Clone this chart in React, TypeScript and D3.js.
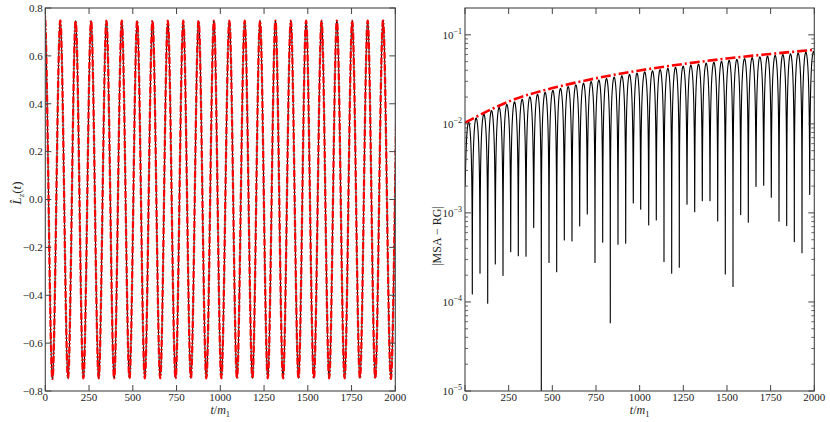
import React from "react";
import * as d3 from "d3";

// ---------- data ----------
// Left panel: extrema of L_z(t) (alternating trough / peak; peak at t=0; outer points lie outside the frame)
const lzTimes = [-43.9, 0, 41.8, 85.9, 130.0, 173.5, 217.6, 261.7, 305.2, 349.3, 393.4, 436.9, 481.0, 525.0, 568.6, 612.6, 656.7, 700.2, 744.3, 788.4, 831.9, 876.0, 920.1, 963.6, 1006.0, 1051.8, 1095.3, 1139.4, 1183.5, 1227.0, 1271.1, 1315.2, 1358.7, 1402.8, 1446.9, 1490.4, 1534.5, 1578.6, 1622.1, 1666.2, 1710.3, 1753.8, 1797.9, 1842.0, 1885.5, 1929.6, 1973.7, 2017.5, 2061.4];
const lzMSA = [-0.747, 0.747, -0.747, 0.747, -0.747, 0.747, -0.747, 0.747, -0.747, 0.747, -0.747, 0.747, -0.747, 0.747, -0.747, 0.747, -0.747, 0.747, -0.747, 0.747, -0.747, 0.747, -0.747, 0.747, -0.747, 0.747, -0.747, 0.747, -0.747, 0.747, -0.747, 0.747, -0.747, 0.747, -0.747, 0.747, -0.747, 0.747, -0.747, 0.747, -0.747, 0.747, -0.747, 0.747, -0.747, 0.747, -0.747, 0.747, -0.747];
const lzRG = [-0.747, 0.747, -0.747, 0.747, -0.747, 0.747, -0.747, 0.747, -0.747, 0.747, -0.747, 0.747, -0.747, 0.747, -0.747, 0.747, -0.747, 0.747, -0.747, 0.747, -0.747, 0.747, -0.747, 0.747, -0.747, 0.747, -0.747, 0.747, -0.747, 0.747, -0.747, 0.747, -0.747, 0.747, -0.747, 0.747, -0.747, 0.747, -0.747, 0.747, -0.747, 0.747, -0.747, 0.747, -0.747, 0.747, -0.747, 0.747, -0.747];

// Right panel: |MSA - RG| dips (time, value) and arch tops between dips
const diffDipT = [0, 41.8, 85.9, 130.0, 173.5, 217.6, 261.7, 305.2, 349.3, 393.4, 436.9, 481.0, 525.0, 568.6, 612.6, 656.7, 700.2, 744.3, 788.4, 831.9, 876.0, 920.1, 963.6, 1006.0, 1051.8, 1095.3, 1139.4, 1183.5, 1227.0, 1271.1, 1315.2, 1358.7, 1402.8, 1446.9, 1490.4, 1534.5, 1578.6, 1622.1, 1666.2, 1710.3, 1753.8, 1797.9, 1842.0, 1885.5, 1929.6, 1973.7, 2017.5];
const diffDipV = [2.0e-3, 1.23e-4, 2.1e-4, 9.7e-5, 2.67e-4, 1.98e-4, 3.67e-4, 3.31e-4, 3.26e-4, 6.84e-4, 2.0e-6, 2.77e-4, 2.19e-4, 4.97e-4, 4.84e-4, 7.14e-4, 9.75e-4, 2.77e-4, 4.69e-4, 5.85e-5, 4.45e-4, 4.57e-4, 1.29e-3, 1.1e-3, 7.33e-4, 8.34e-4, 2.84e-4, 2.1e-4, 2.45e-4, 1.25e-3, 1.03e-3, 1.37e-3, 1.37e-3, 8.13e-4, 2.06e-4, 1.49e-4, 9.57e-4, 7.86e-4, 1.98e-3, 2.05e-3, 1.5e-3, 8.07e-4, 7.2e-4, 4.76e-4, 3.58e-4, 1.61e-3, 1.0e-3];
const diffHumpV = [0.0104, 0.01165, 0.0129, 0.0141, 0.0153, 0.0165, 0.0177, 0.0189, 0.0201, 0.0214, 0.0226, 0.0238, 0.025, 0.0262, 0.0274, 0.0286, 0.0298, 0.0311, 0.0323, 0.0335, 0.0347, 0.0359, 0.0371, 0.0383, 0.0395, 0.0407, 0.042, 0.0432, 0.0444, 0.0456, 0.0468, 0.048, 0.0492, 0.0504, 0.0516, 0.0529, 0.0541, 0.0553, 0.0565, 0.0577, 0.0589, 0.0601, 0.0613, 0.0625, 0.0638, 0.065];

// Right panel: red dash-dot envelope
const envT = [0, 250, 500, 750, 1000, 1250, 1500, 1750, 2000];
const envV = [0.0103, 0.0178, 0.0252, 0.0325, 0.0398, 0.047, 0.0542, 0.061, 0.0678];

const xTicks = [0, 250, 500, 750, 1000, 1250, 1500, 1750, 2000];
const yTicksLeft = [-0.8, -0.6, -0.4, -0.2, 0.0, 0.2, 0.4, 0.6, 0.8];
const yDecadesRight = [-5, -4, -3, -2, -1];

// arch sampling fractions (line style of the absolute-difference trace)
const archU = [0, 0.001, 0.003, 0.006, 0.01, 0.016, 0.025, 0.04, 0.06, 0.09, 0.13, 0.18, 0.24, 0.31, 0.39, 0.46, 0.5, 0.54, 0.61, 0.69, 0.76, 0.82, 0.87, 0.91, 0.94, 0.96, 0.975, 0.984, 0.99, 0.994, 0.997, 0.999];

const FONT = "'Liberation Serif', 'DejaVu Serif', serif";
const AX = "#444";
const TXT = "#222";

function fmtLeft(v: number) {
  const s = Math.abs(v).toFixed(1);
  return v < -1e-9 ? "\u2212" + s : s;
}

export default function App() {
  const L = { x0: 45.3, x1: 395.3, y0: 8, y1: 391 };
  const R = { x0: 465, x1: 814.3, y0: 8, y1: 391 };

  const xl = d3.scaleLinear().domain([0, 2000]).range([L.x0, L.x1]);
  const yl = d3.scaleLinear().domain([-0.8, 0.8]).range([L.y1, L.y0]);
  const xr = d3.scaleLinear().domain([0, 2000]).range([R.x0, R.x1]);
  const yr = d3.scaleLog().domain([1e-5, 0.2]).range([R.y1, R.y0]);

  const leftLine = d3
    .line<[number, number]>()
    .x((d) => xl(d[0]))
    .y((d) => yl(d[1]))
    .curve(d3.curveNatural);
  const msaPts: [number, number][] = lzTimes.map((t, i) => [t, lzMSA[i]]);
  const rgPts: [number, number][] = lzTimes.map((t, i) => [t, lzRG[i]]);

  // absolute difference trace: arches between consecutive dips
  const diffPts: [number, number][] = [];
  for (let k = 0; k < diffHumpV.length; k++) {
    const t0 = diffDipT[k], t1 = diffDipT[k + 1];
    const v0 = diffDipV[k], v1 = diffDipV[k + 1];
    const h = diffHumpV[k];
    for (const u of archU) {
      const floor = (1 - u) * v0 + u * v1;
      const a = h * Math.sin(Math.PI * u);
      diffPts.push([t0 + u * (t1 - t0), Math.sqrt(a * a + floor * floor)]);
    }
  }
  diffPts.push([diffDipT[diffDipT.length - 1], diffDipV[diffDipV.length - 1]]);

  const rightLine = d3
    .line<[number, number]>()
    .x((d) => xr(d[0]))
    .y((d) => yr(Math.max(d[1], 1e-7)));
  const envLine = d3
    .line<[number, number]>()
    .x((d) => xr(d[0]))
    .y((d) => yr(d[1]))
    .curve(d3.curveNatural);
  const envPts: [number, number][] = envT.map((t, i) => [t, envV[i]]);

  const major = 6;
  const minor = 3;

  const minorRight: number[] = [];
  for (const e of yDecadesRight) {
    for (let m = 2; m <= 9; m++) {
      const v = m * Math.pow(10, e);
      if (v < 0.2) minorRight.push(v);
    }
  }

  const xTitle = (cx: number) => (
    <text x={cx} y={414} fontSize={12} fill={TXT} textAnchor="middle" fontStyle="italic">
      t<tspan fontStyle="normal">/</tspan>m<tspan fontSize={8.5} dy={2.5} fontStyle="normal">1</tspan>
    </text>
  );

  return (
    <div style={{ position: "absolute", left: 0, top: 0 }}>
      <svg width={830} height={422} style={{ display: "block", background: "#fff" }} fontFamily={FONT}>
        <defs>
          <clipPath id="clipL">
            <rect x={L.x0} y={L.y0} width={L.x1 - L.x0} height={L.y1 - L.y0} />
          </clipPath>
          <clipPath id="clipR">
            <rect x={R.x0} y={R.y0} width={R.x1 - R.x0} height={R.y1 - R.y0} />
          </clipPath>
        </defs>

        {/* ---------- LEFT PANEL ---------- */}
        <g clipPath="url(#clipL)">
          <path d={leftLine(msaPts) || ""} fill="none" stroke="#000" strokeWidth={1} />
          <path d={leftLine(rgPts) || ""} fill="none" stroke="#ff0000" strokeWidth={2.3} strokeDasharray="7 2 1.5 2" />
        </g>
        <rect x={L.x0} y={L.y0} width={L.x1 - L.x0} height={L.y1 - L.y0} fill="none" stroke={AX} strokeWidth={1.1} />
        {xTicks.map((t) => (
          <g key={"lx" + t}>
            <line x1={xl(t)} x2={xl(t)} y1={L.y1} y2={L.y1 - major} stroke={AX} strokeWidth={1} />
            <line x1={xl(t)} x2={xl(t)} y1={L.y0} y2={L.y0 + major} stroke={AX} strokeWidth={1} />
            <text x={xl(t)} y={L.y1 + 9.5} fontSize={11} fill={TXT} textAnchor="middle">
              {t}
            </text>
          </g>
        ))}
        {yTicksLeft.map((v) => (
          <g key={"ly" + v}>
            <line x1={L.x0} x2={L.x0 + major} y1={yl(v)} y2={yl(v)} stroke={AX} strokeWidth={1} />
            <line x1={L.x1} x2={L.x1 - major} y1={yl(v)} y2={yl(v)} stroke={AX} strokeWidth={1} />
            <text x={L.x0 - 2.5} y={yl(v) + 3.8} fontSize={11} fill={TXT} textAnchor="end">
              {fmtLeft(v)}
            </text>
          </g>
        ))}
        {xTitle((L.x0 + L.x1) / 2)}
        <text transform={`translate(21,193) rotate(-90)`} fontSize={13} fill={TXT} textAnchor="middle" fontStyle="italic">
          {"L\u0302"}
          <tspan fontSize={9} dy={2.5}>z</tspan>
          <tspan dy={-2.5} fontStyle="normal">(</tspan>
          t
          <tspan fontStyle="normal">)</tspan>
        </text>

        {/* ---------- RIGHT PANEL ---------- */}
        <g clipPath="url(#clipR)">
          <path d={rightLine(diffPts) || ""} fill="none" stroke="#000" strokeWidth={1.1} strokeLinejoin="round" />
          <path d={envLine(envPts) || ""} fill="none" stroke="#ff0000" strokeWidth={2.6} strokeDasharray="10 3 2 3" />
        </g>
        <rect x={R.x0} y={R.y0} width={R.x1 - R.x0} height={R.y1 - R.y0} fill="none" stroke={AX} strokeWidth={1.1} />
        {xTicks.map((t) => (
          <g key={"rx" + t}>
            <line x1={xr(t)} x2={xr(t)} y1={R.y1} y2={R.y1 - major} stroke={AX} strokeWidth={1} />
            <line x1={xr(t)} x2={xr(t)} y1={R.y0} y2={R.y0 + major} stroke={AX} strokeWidth={1} />
            <text x={xr(t)} y={R.y1 + 9.5} fontSize={11} fill={TXT} textAnchor="middle">
              {t}
            </text>
          </g>
        ))}
        {yDecadesRight.map((e) => {
          const y = yr(Math.pow(10, e));
          return (
            <g key={"ry" + e}>
              <line x1={R.x0} x2={R.x0 + major} y1={y} y2={y} stroke={AX} strokeWidth={1} />
              <line x1={R.x1} x2={R.x1 - major} y1={y} y2={y} stroke={AX} strokeWidth={1} />
              <text x={R.x0 - 3} y={y + 4} fontSize={11} fill={TXT} textAnchor="end">
                10<tspan fontSize={8} dy={-5}>{"\u2212" + Math.abs(e)}</tspan>
              </text>
            </g>
          );
        })}
        {minorRight.map((v, i) => (
          <g key={"rm" + i}>
            <line x1={R.x0} x2={R.x0 + minor} y1={yr(v)} y2={yr(v)} stroke={AX} strokeWidth={0.8} />
            <line x1={R.x1} x2={R.x1 - minor} y1={yr(v)} y2={yr(v)} stroke={AX} strokeWidth={0.8} />
          </g>
        ))}
        {xTitle((R.x0 + R.x1) / 2)}
        <text transform={`translate(441,236) rotate(-90)`} fontSize={12} fill={TXT} textAnchor="middle">
          |MSA {"\u2212"} RG|
        </text>
      </svg>
    </div>
  );
}
